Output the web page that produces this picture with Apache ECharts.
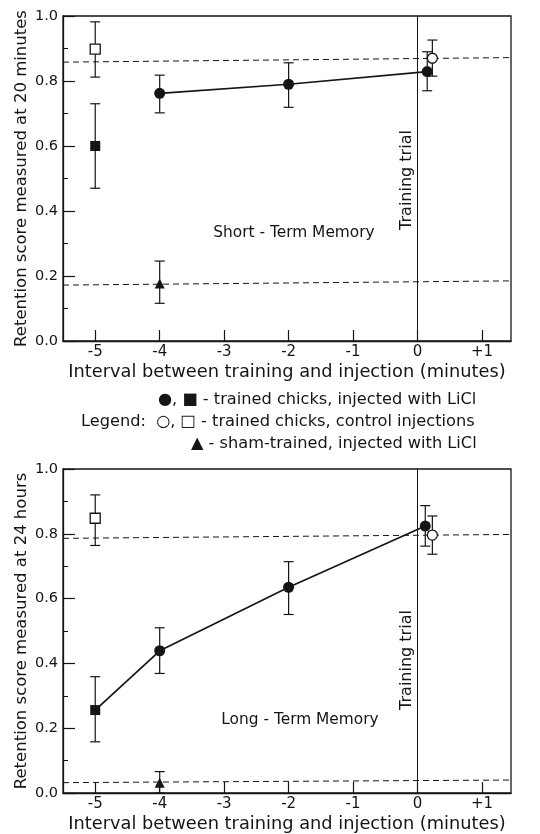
<!DOCTYPE html>
<html>
<head>
<meta charset="utf-8">
<script src="https://cdn.jsdelivr.net/npm/echarts@6/dist/echarts.min.js"></script>
<style>
html,body{margin:0;padding:0;background:#fff;}
#chart{width:540px;height:834px;}
</style>
</head>
<body>
<div id="chart"></div>
<script>
// ---- Data ----
const xTicks = [-5, -4, -3, -2, -1, 0, 1];
const xTickLabels = ['-5', '-4', '-3', '-2', '-1', '0', '+1'];
const xRange = [-5.5, 1.45];

// Short-term memory (20 min) rows: [x, y, lower, upper]
const stmFilledCircles = [[-4, 0.762, 0.702, 0.818], [-2, 0.790, 0.719, 0.856], [0.15, 0.829, 0.770, 0.890]];
const stmFilledSquare = [[-5, 0.600, 0.470, 0.730]];
const stmOpenCircle = [[0.23, 0.870, 0.815, 0.926]];
const stmOpenSquare = [[-5, 0.898, 0.812, 0.982]];
const stmTriangle = [[-4, 0.177, 0.116, 0.246]];
const stmDashedControl = [[-5.5, 0.858], [1.45, 0.872]];
const stmDashedSham = [[-5.5, 0.172], [1.45, 0.185]];

// Long-term memory (24 h)
const ltmFilledSquare = [[-5, 0.256, 0.158, 0.359]];
const ltmFilledCircles = [[-4, 0.439, 0.369, 0.510], [-2, 0.635, 0.551, 0.714], [0.12, 0.824, 0.762, 0.887]];
const ltmOpenCircle = [[0.23, 0.796, 0.737, 0.855]];
const ltmOpenSquare = [[-5, 0.848, 0.764, 0.920]];
const ltmTriangle = [[-4, 0.032, 0.000, 0.066]];
const ltmDashedControl = [[-5.5, 0.786], [1.45, 0.798]];
const ltmDashedSham = [[-5.5, 0.032], [1.45, 0.040]];

const yTitleTop = 'Retention score measured at 20 minutes';
const yTitleBottom = 'Retention score measured at 24 hours';
const xTitle = 'Interval between training and injection (minutes)';

// ---- Styles ----
const INK = '#151515';
const FONT = 'DejaVu Sans';

const chart = echarts.init(document.getElementById('chart'), null, {renderer: 'canvas'});

function errRender(params, api) {
  const x = api.value(0), lo = api.value(2), hi = api.value(3);
  const a = api.coord([x, lo]), b = api.coord([x, hi]);
  const w = 5;
  const st = {stroke: INK, lineWidth: 1.2};
  return {type: 'group', children: [
    {type: 'line', shape: {x1: a[0], y1: a[1], x2: b[0], y2: b[1]}, style: st},
    {type: 'line', shape: {x1: a[0] - w, y1: a[1], x2: a[0] + w, y2: a[1]}, style: st},
    {type: 'line', shape: {x1: b[0] - w, y1: b[1], x2: b[0] + w, y2: b[1]}, style: st}
  ]};
}

function xAxisDef(gi) {
  return {
    gridIndex: gi, type: 'value', min: xRange[0], max: xRange[1],
    name: xTitle, nameLocation: 'middle', nameGap: 22,
    nameTextStyle: {fontFamily: FONT, fontSize: 17.8, color: INK},
    axisLine: {show: true, onZero: false, lineStyle: {color: INK, width: 1.3}},
    axisTick: {show: true, inside: true, length: 11, customValues: xTicks, lineStyle: {color: INK, width: 1.2}},
    axisLabel: {customValues: xTicks, margin: 4, fontFamily: FONT, fontSize: 15, color: INK,
      formatter: v => xTickLabels[xTicks.indexOf(Math.round(v))] || ''},
    splitLine: {show: false}
  };
}
function yAxisDef(gi, title) {
  return {
    gridIndex: gi, type: 'value', min: 0, max: 1, interval: 0.2,
    name: title, nameLocation: 'middle', nameGap: 33, nameMoveOverlap: false,
    nameTextStyle: {fontFamily: FONT, fontSize: 16.5, color: INK},
    axisLine: {show: true, onZero: false, lineStyle: {color: INK, width: 1.3}},
    axisTick: {show: true, inside: true, length: 12, lineStyle: {color: INK, width: 1.2}},
    minorTick: {show: true, splitNumber: 2, length: 5, lineStyle: {color: INK, width: 1}},
    axisLabel: {margin: 5, fontFamily: FONT, fontSize: 14.5, color: INK, formatter: v => v.toFixed(1)},
    splitLine: {show: false}, minorSplitLine: {show: false}
  };
}

function panelSeries(gi, d) {
  const ax = {xAxisIndex: gi, yAxisIndex: gi};
  const s = [];
  const dash = data => Object.assign({type: 'line', data: data, symbol: 'none', silent: true,
    lineStyle: {color: INK, width: 1, type: [6, 4]}, z: 2}, ax);
  s.push(dash(d.dashedControl));
  s.push(dash(d.dashedSham));
  // vertical training trial line
  s.push(Object.assign({type: 'line', data: [], markLine: {silent: true, symbol: 'none', label: {show: false},
    lineStyle: {color: INK, width: 1, type: 'solid'}, data: [{xAxis: 0}]}}, ax));
  // connecting line
  s.push(Object.assign({type: 'line', data: d.line.map(r => [r[0], r[1]]), symbol: 'none',
    lineStyle: {color: INK, width: 1.7}, z: 3}, ax));
  // error bars
  const allErr = [].concat(d.filledSquare, d.filledCircles, d.openSquare, d.openCircle, d.triangle);
  s.push(Object.assign({type: 'custom', data: allErr, renderItem: errRender, encode: {x: 0, y: [2, 3]}, z: 4}, ax));
  const sc = (data, symbol, size, fill, z) => Object.assign({type: 'scatter', data: data.map(r => [r[0], r[1]]),
    symbol: symbol, symbolSize: size, z: z,
    itemStyle: {color: fill, borderColor: INK, borderWidth: fill === '#fff' ? 1.3 : 0, opacity: 1}}, ax);
  s.push(sc(d.filledCircles, 'circle', 11, INK, 5));
  s.push(sc(d.filledSquare, 'rect', 10, INK, 5));
  s.push(sc(d.triangle, 'triangle', 10, INK, 5));
  s.push(sc(d.openSquare, 'rect', 10, '#fff', 6));
  s.push(sc(d.openCircle, 'circle', 10, '#fff', 6));
  return s;
}

const series = [].concat(
  panelSeries(0, {dashedControl: stmDashedControl, dashedSham: stmDashedSham,
    line: stmFilledCircles, filledCircles: stmFilledCircles, filledSquare: stmFilledSquare,
    openSquare: stmOpenSquare, openCircle: stmOpenCircle, triangle: stmTriangle}),
  panelSeries(1, {dashedControl: ltmDashedControl, dashedSham: ltmDashedSham,
    line: ltmFilledSquare.concat(ltmFilledCircles), filledCircles: ltmFilledCircles, filledSquare: ltmFilledSquare,
    openSquare: ltmOpenSquare, openCircle: ltmOpenCircle, triangle: ltmTriangle})
);

const txt = (x, y, text, extra) => Object.assign({type: 'text', x: x, y: y,
  style: {text: text, fontFamily: FONT, fontSize: 16.2, fill: INK, verticalAlign: 'middle', align: 'left'}}, extra || {});
const ctxt = (x, y, text, size, rot) => ({type: 'text', x: x, y: y, rotation: rot || 0,
  style: {text: text, fontFamily: FONT, fontSize: size, fill: INK, align: 'center', verticalAlign: 'middle'}});

const option = {
  backgroundColor: '#fff',
  animation: false,
  grid: [
    {left: 63, top: 16, width: 448, height: 325, show: true, borderColor: INK, borderWidth: 1.3, backgroundColor: 'transparent', containLabel: false, outerBoundsMode: 'none'},
    {left: 63, top: 469, width: 448, height: 324, show: true, borderColor: INK, borderWidth: 1.3, backgroundColor: 'transparent', containLabel: false, outerBoundsMode: 'none'}
  ],
  xAxis: [xAxisDef(0), xAxisDef(1)],
  yAxis: [yAxisDef(0, yTitleTop), yAxisDef(1, yTitleBottom)],
  series: series,
  graphic: [
    ctxt(294, 233, 'Short - Term Memory', 15.4),
    ctxt(300, 720, 'Long - Term Memory', 15.4),
    ctxt(407, 180, 'Training trial', 16, Math.PI / 2),
    ctxt(407, 660, 'Training trial', 16, Math.PI / 2),
    txt(158, 400, '\u25CF, \u25A0 - trained chicks, injected with LiCl'),
    txt(81, 422, 'Legend:  \u25CB, \u25A1 - trained chicks, control injections'),
    txt(191, 444, '\u25B2 - sham-trained, injected with LiCl')
  ]
};
chart.setOption(option);
</script>
</body>
</html>
